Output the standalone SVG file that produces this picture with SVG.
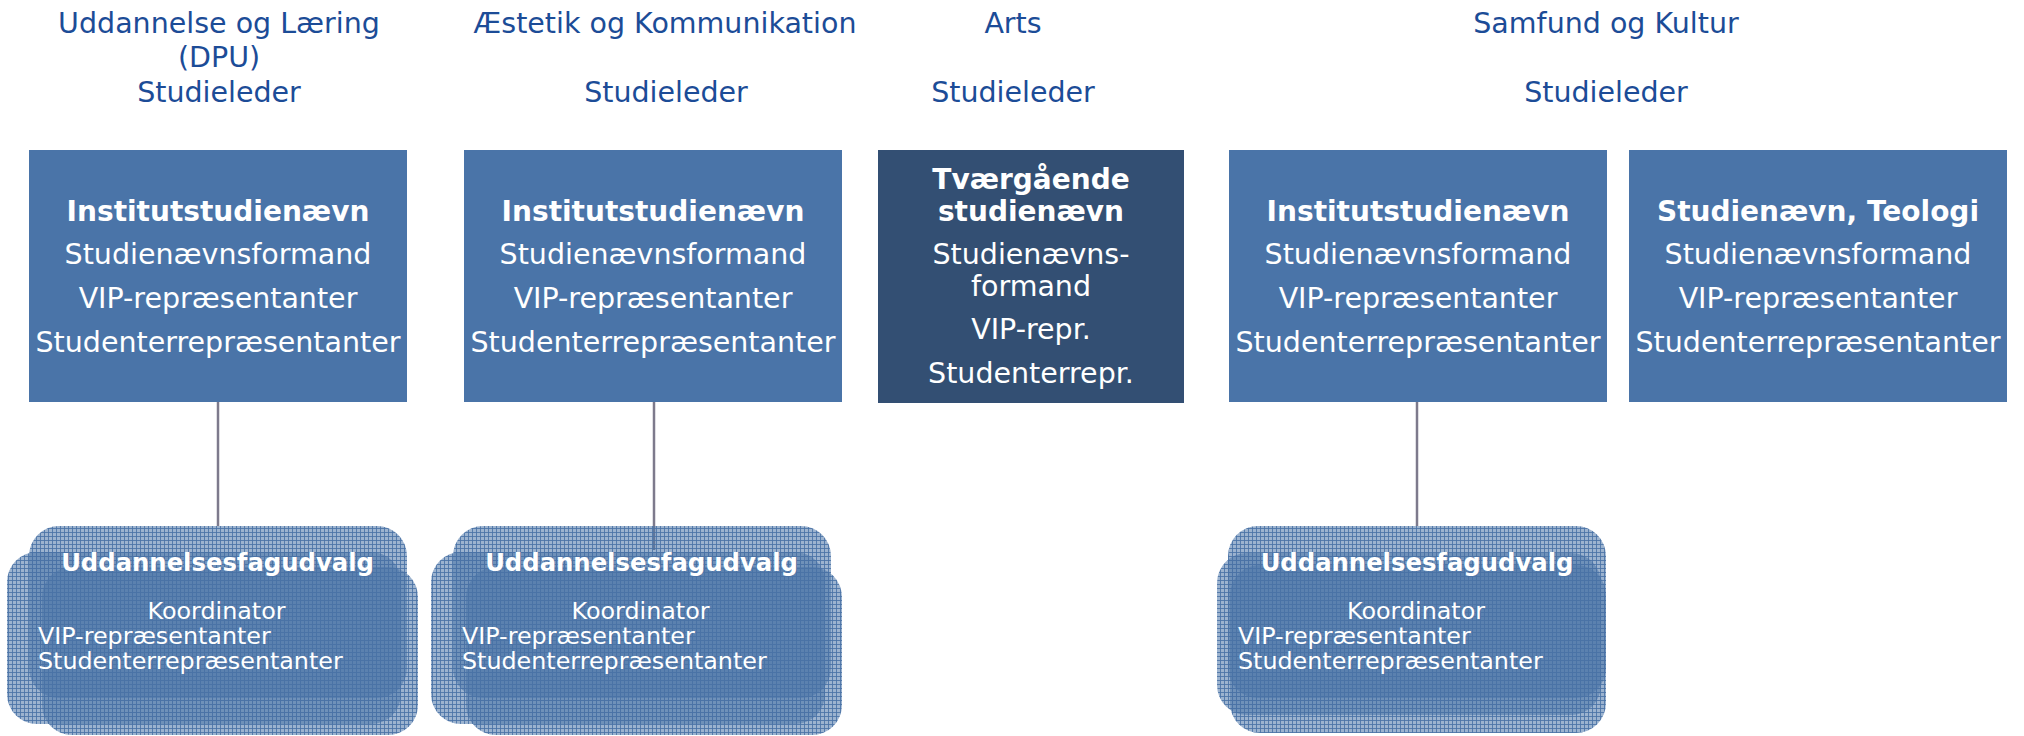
<svg xmlns="http://www.w3.org/2000/svg" width="2024" height="736" viewBox="0 0 2024 736">
<defs>
<pattern id="mesh" width="4" height="4" patternUnits="userSpaceOnUse">
<rect width="4" height="4" fill="#4a74a8" fill-opacity="0.55"/>
<path d="M0 0.5H4M0.5 0V4" stroke="#4a72a6" stroke-opacity="0.85" stroke-width="1" fill="none"/>
</pattern>
</defs>
<style>
.hdr{font-family:"DejaVu Sans",Verdana,sans-serif;font-size:28.5px;fill:#1c4c97;text-anchor:middle}
.box{fill:#4a74a8}
.dark{fill:#334f73}
.bt{font-family:"DejaVu Sans",Verdana,sans-serif;font-size:28.5px;fill:#ffffff;text-anchor:middle}
.bb{font-weight:bold;font-size:28px}
.lyr{fill:url(#mesh)}
.st{font-family:"DejaVu Sans",Verdana,sans-serif;font-size:23.8px;fill:#ffffff}
.stb{font-weight:bold;font-size:24.3px;text-anchor:middle}
.conn{stroke:#7d7a8c;stroke-width:2.5;fill:none}
</style>
<rect width="2024" height="736" fill="#ffffff"/>

<g id="headers">
<text class="hdr" x="219" y="33">Uddannelse og Læring</text>
<text class="hdr" x="219" y="67">(DPU)</text>
<text class="hdr" x="219" y="102">Studieleder</text>
<text class="hdr" x="665" y="33">Æstetik og Kommunikation</text>
<text class="hdr" x="666" y="102">Studieleder</text>
<text class="hdr" x="1013" y="33">Arts</text>
<text class="hdr" x="1013" y="102">Studieleder</text>
<text class="hdr" x="1606" y="33">Samfund og Kultur</text>
<text class="hdr" x="1606" y="102">Studieleder</text>
</g>

<g id="connectors">
<line class="conn" x1="218" y1="402" x2="218" y2="526"/>
<line class="conn" x1="654" y1="402" x2="654" y2="550"/>
<line class="conn" x1="1417" y1="402" x2="1417" y2="526"/>
</g>

<g id="isn1">
<rect class="box" x="29" y="150" width="378" height="252"/>
<text class="bt bb" x="218" y="221">Institutstudienævn</text>
<text class="bt" x="218" y="264">Studienævnsformand</text>
<text class="bt" x="218" y="308">VIP-repræsentanter</text>
<text class="bt" x="218" y="352">Studenterrepræsentanter</text>
</g>

<g id="isn2">
<rect class="box" x="464" y="150" width="378" height="252"/>
<text class="bt bb" x="653" y="221">Institutstudienævn</text>
<text class="bt" x="653" y="264">Studienævnsformand</text>
<text class="bt" x="653" y="308">VIP-repræsentanter</text>
<text class="bt" x="653" y="352">Studenterrepræsentanter</text>
</g>

<g id="tsn">
<rect class="dark" x="878" y="150" width="306" height="253"/>
<text class="bt bb" x="1031" y="189">Tværgående</text>
<text class="bt bb" x="1031" y="221">studienævn</text>
<text class="bt" x="1031" y="264">Studienævns-</text>
<text class="bt" x="1031" y="296">formand</text>
<text class="bt" x="1031" y="339">VIP-repr.</text>
<text class="bt" x="1031" y="383">Studenterrepr.</text>
</g>

<g id="isn3">
<rect class="box" x="1229" y="150" width="378" height="252"/>
<text class="bt bb" x="1418" y="221">Institutstudienævn</text>
<text class="bt" x="1418" y="264">Studienævnsformand</text>
<text class="bt" x="1418" y="308">VIP-repræsentanter</text>
<text class="bt" x="1418" y="352">Studenterrepræsentanter</text>
</g>

<g id="teologi">
<rect class="box" x="1629" y="150" width="378" height="252"/>
<text class="bt bb" x="1818" y="221">Studienævn, Teologi</text>
<text class="bt" x="1818" y="264">Studienævnsformand</text>
<text class="bt" x="1818" y="308">VIP-repræsentanter</text>
<text class="bt" x="1818" y="352">Studenterrepræsentanter</text>
</g>

<g id="ufu1">
<rect class="lyr" x="29" y="526" width="378" height="172" rx="30"/>
<rect class="lyr" x="7" y="552" width="394" height="172" rx="30"/>
<rect class="lyr" x="42" y="567" width="376" height="168" rx="30"/>
<text class="st stb" x="217.5" y="571">Uddannelsesfagudvalg</text>
<text class="st" x="216.5" y="619" text-anchor="middle">Koordinator</text>
<text class="st" x="38" y="644">VIP-repræsentanter</text>
<text class="st" x="38" y="669">Studenterrepræsentanter</text>
</g>

<g id="ufu2">
<rect class="lyr" x="453" y="526" width="378" height="172" rx="30"/>
<rect class="lyr" x="431" y="552" width="394" height="172" rx="30"/>
<rect class="lyr" x="466" y="567" width="376" height="168" rx="30"/>
<text class="st stb" x="641.5" y="571">Uddannelsesfagudvalg</text>
<text class="st" x="640.5" y="619" text-anchor="middle">Koordinator</text>
<text class="st" x="462" y="644">VIP-repræsentanter</text>
<text class="st" x="462" y="669">Studenterrepræsentanter</text>
</g>

<g id="ufu3">
<rect class="lyr" x="1228" y="526" width="378" height="172" rx="30"/>
<rect class="lyr" x="1217" y="553" width="384" height="162" rx="30"/>
<rect class="lyr" x="1230" y="565" width="376" height="168" rx="30"/>
<text class="st stb" x="1417" y="571">Uddannelsesfagudvalg</text>
<text class="st" x="1416" y="619" text-anchor="middle">Koordinator</text>
<text class="st" x="1238" y="644">VIP-repræsentanter</text>
<text class="st" x="1238" y="669">Studenterrepræsentanter</text>
</g>
</svg>
